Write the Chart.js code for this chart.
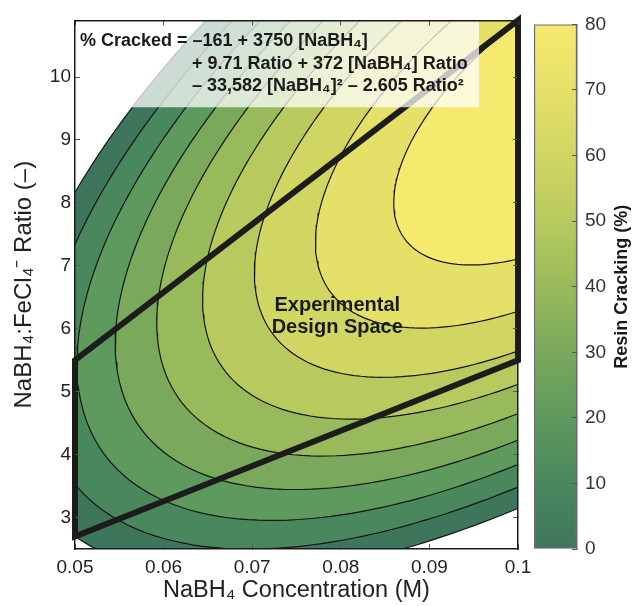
<!DOCTYPE html>
<html><head><meta charset="utf-8">
<script src="https://cdn.jsdelivr.net/npm/chart.js@4.4.0/dist/chart.umd.min.js"></script>
<style>
html,body{margin:0;padding:0;background:#fff;}
#wrap{position:relative;width:638px;height:606px;overflow:hidden;}
.box{position:absolute;top:0;}
</style></head><body>
<div id="wrap">
<div class="box" style="left:0;width:560px;height:606px"><canvas id="main" width="560" height="606"></canvas></div>
<div class="box" style="left:520px;width:118px;height:606px"><canvas id="cbar" width="118" height="606"></canvas></div>
</div>
<script>
// Response-surface model printed on the chart:
// % Cracked = c0 + c1*[NaBH4] + c2*Ratio + c3*[NaBH4]*Ratio + c4*[NaBH4]^2 + c5*Ratio^2
const coefficients = [-161, 3750, 9.71, 372, -33582, -2.605];
const contourLevels = [0, 10, 20, 30, 40, 50, 60, 70, 80];
const levelColors = ['#3e765c','#49885d','#5e995d','#7aa95c','#98ba5b','#b8ca5e','#d1d663','#e5e068','#f6ea6e'];
const xTicks = [0.05, 0.06, 0.07, 0.08, 0.09, 0.1];
const yTicks = [3, 4, 5, 6, 7, 8, 9, 10];
const colorbarTicks = [0, 10, 20, 30, 40, 50, 60, 70, 80];
const designConc  = [0.05, 0.1, 0.1, 0.05, 0.05, 0.1];
const designRatio = [2.7, 5.5, 10.9, 5.5, 2.7, 5.5];
const equationLines = ['% Cracked = \u2013161 + 3750 [NaBH\u2084]', '+ 9.71 Ratio + 372 [NaBH\u2084] Ratio', '\u2013 33,582 [NaBH\u2084]\u00b2 \u2013 2.605 Ratio\u00b2'];
const regionLabel = ['Experimental', 'Design Space'];

const FONT = "'Liberation Sans', Arial, Helvetica, sans-serif";
const TXT = '#222';

// iso-line of the printed model for one level (closed ellipse around the optimum)
function contourPoints(level) {
  const [c0, c1, c2, c3, c4, c5] = coefficients;
  const det = 4 * c4 * c5 - c3 * c3;
  const xc = (-2 * c5 * c1 + c3 * c2) / det;
  const rc = (-2 * c4 * c2 + c3 * c1) / det;
  const vmax = c0 + c1 * xc + c2 * rc + c3 * xc * rc + c4 * xc * xc + c5 * rc * rc;
  const pts = [];
  const N = 480;
  for (let k = 0; k <= N; k++) {
    const th = 2 * Math.PI * k / N;
    const dx = 0.01 * Math.cos(th), dr = Math.sin(th);
    const q = c4 * dx * dx + c3 * dx * dr + c5 * dr * dr;
    const t = Math.sqrt((level - vmax) / q);
    pts.push({x: xc + t * dx, y: rc + t * dr});
  }
  return pts;
}

const datasets = [];
datasets.push({
  label: 'Experimental Design Space',
  data: designConc.map((c, i) => ({x: c, y: designRatio[i]})),
  borderColor: '#1c1c1c', borderWidth: 6, borderJoinStyle: 'miter', borderCapStyle: 'butt',
  fill: false, pointRadius: 0, tension: 0, clip: false, order: 0
});
contourLevels.forEach((L, i) => {
  datasets.push({
    label: 'level ' + L,
    data: contourPoints(L),
    borderColor: '#151515', borderWidth: 1.2,
    backgroundColor: levelColors[i],
    fill: 'shape', pointRadius: 0, tension: 0,
    order: contourLevels.length - i
  });
});

const annotPlugin = {
  id: 'annot',
  afterDatasetsDraw(chart) {
    const {ctx, scales: {x, y}} = chart;
    ctx.save();
    // translucent equation box
    const bx0 = x.getPixelForValue(0.05), bx1 = x.getPixelForValue(0.0956);
    const by0 = y.getPixelForValue(10.9), by1 = y.getPixelForValue(9.52);
    ctx.fillStyle = 'rgba(255,255,255,0.74)';
    ctx.fillRect(bx0, by0, bx1 - bx0, by1 - by0);
    ctx.fillStyle = '#1a1a1a';
    ctx.font = 'bold 18px ' + FONT;
    ctx.textBaseline = 'middle';
    ctx.textAlign = 'left';
    ctx.fillText(equationLines[0], bx0 + 5, by0 + 21);
    ctx.fillText(equationLines[1], bx0 + 117, by0 + 44);
    ctx.fillText(equationLines[2], bx0 + 117, by0 + 66);
    // region label
    ctx.font = 'bold 20px ' + FONT;
    ctx.textAlign = 'center';
    const lx = x.getPixelForValue(0.0796), ly = y.getPixelForValue(6.2);
    ctx.fillText(regionLabel[0], lx, ly - 11);
    ctx.fillText(regionLabel[1], lx, ly + 11);
    ctx.restore();
  }
};

const tickFmt = v => String(+Number(v).toFixed(2));
const gridOpts = {drawOnChartArea: false, drawTicks: true, tickLength: -5, tickColor: '#555', tickWidth: 1, z: 1};
const borderOpts = {display: true, color: '#1a1a1a', width: 1.5, z: 1};

new Chart(document.getElementById('main'), {
  type: 'line',
  data: {datasets},
  options: {
    responsive: false, animation: false, events: [],
    layout: {padding: {left: 0, top: 16, right: 42, bottom: 0}},
    plugins: {legend: {display: false}, tooltip: {enabled: false}, filler: {propagate: false}},
    scales: {
      x: {
        type: 'linear', position: 'bottom', min: 0.05, max: 0.1,
        afterBuildTicks: s => { s.ticks = xTicks.map(v => ({value: v})); },
        ticks: {callback: tickFmt, font: {family: FONT, size: 19}, color: TXT, padding: 12, maxRotation: 0},
        grid: gridOpts, border: borderOpts,
        title: {display: true, text: 'NaBH\u2084 Concentration (M)', font: {family: FONT, size: 23.5}, color: TXT, padding: {top: 0, bottom: 1}},
        afterFit: s => { s.height = 57; }
      },
      x2: {
        type: 'linear', position: 'top', min: 0.05, max: 0.1,
        afterBuildTicks: s => { s.ticks = xTicks.map(v => ({value: v})); },
        ticks: {display: false}, grid: gridOpts, border: borderOpts,
        afterFit: s => { s.height = 0; }
      },
      y: {
        type: 'linear', position: 'left', min: 2.5, max: 10.9,
        afterBuildTicks: s => { s.ticks = yTicks.map(v => ({value: v})); },
        ticks: {callback: tickFmt, font: {family: FONT, size: 19}, color: TXT, padding: 9},
        grid: gridOpts, border: borderOpts,
        title: {display: true, text: 'NaBH\u2084:FeCl\u2084\u207b Ratio (\u2013)', font: {family: FONT, size: 24}, color: TXT, padding: {top: 10, bottom: 0}},
        afterFit: s => { s.width = 75; }
      },
      y2: {
        type: 'linear', position: 'right', min: 2.5, max: 10.9,
        afterBuildTicks: s => { s.ticks = yTicks.map(v => ({value: v})); },
        ticks: {display: false}, grid: gridOpts, border: borderOpts,
        afterFit: s => { s.width = 0; }
      }
    }
  },
  plugins: [annotPlugin]
});

// colour bar
const cbTitlePlugin = {
  id: 'cbTitle',
  afterDraw(chart) {
    const {ctx} = chart;
    ctx.save();
    ctx.translate(102, (chart.chartArea.top + chart.chartArea.bottom) / 2);
    ctx.rotate(-Math.PI / 2);
    ctx.font = 'bold 18px ' + FONT;
    ctx.fillStyle = '#1a1a1a';
    ctx.textAlign = 'center';
    ctx.textBaseline = 'middle';
    ctx.fillText('Resin Cracking (%)', 0, 0);
    ctx.restore();
  }
};
const cbMax = colorbarTicks[colorbarTicks.length - 1];
new Chart(document.getElementById('cbar'), {
  type: 'bar',
  data: {labels: [''], datasets: [{
    data: [cbMax],
    backgroundColor: (c) => {
      const chart = c.chart;
      if (!chart.chartArea) return levelColors[0];
      const ys = chart.scales.y;
      const g = chart.ctx.createLinearGradient(0, ys.getPixelForValue(0), 0, ys.getPixelForValue(cbMax));
      contourLevels.forEach((L, i) => g.addColorStop(L / cbMax, levelColors[i]));
      return g;
    },
    borderColor: '#6a6a6a', borderWidth: 1.5, borderSkipped: false,
    barPercentage: 1, categoryPercentage: 1
  }]},
  options: {
    responsive: false, animation: false, events: [],
    layout: {padding: {left: 14, top: 16, right: 0, bottom: 57}},
    plugins: {legend: {display: false}, tooltip: {enabled: false}},
    scales: {
      x: {display: false},
      y: {
        position: 'right', min: 0, max: cbMax,
        afterBuildTicks: s => { s.ticks = colorbarTicks.map(v => ({value: v})); },
        ticks: {font: {family: FONT, size: 19}, color: '#333', padding: 13},
        grid: {drawOnChartArea: false, drawTicks: true, tickLength: -5, tickColor: '#555', z: 1},
        border: {display: true, color: '#6a6a6a', width: 1.5, z: 1},
        afterFit: s => { s.width = 61; }
      }
    }
  },
  plugins: [cbTitlePlugin]
});
</script>
</body></html>
